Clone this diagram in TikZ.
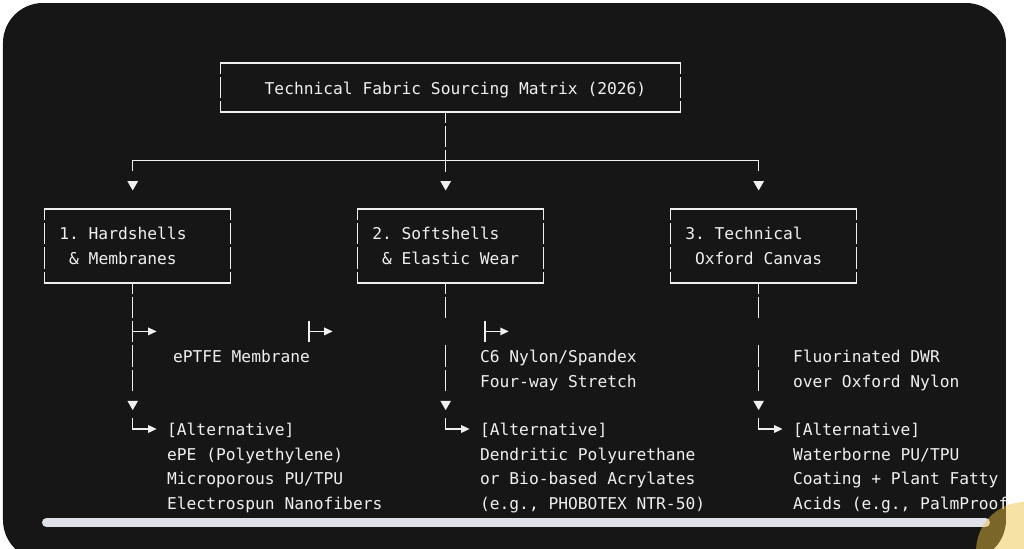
\documentclass[tikz,border=0pt]{standalone}
\usepackage{fontspec}
\setmonofont{DejaVu Sans Mono}
\usetikzlibrary{arrows.meta,shapes.geometric}

\definecolor{panel}{HTML}{161616}
\definecolor{ink}{HTML}{F0F0F0}
\definecolor{bar}{HTML}{DEE1E7}
\definecolor{sun}{HTML}{EEC142}

\tikzset{
  mono/.style={font=\ttfamily\fontsize{16.25}{24.4}\selectfont, text=ink, inner sep=0pt},
  boxframe/.style={mono, minimum width=185.82pt, minimum height=73.2pt,
    text width=156.48pt, inner xsep=14.67pt, align=flush left,
    execute at begin node={\spaceskip=0pt\xspaceskip=0pt}},
  note/.style={mono, anchor=base west, text width=240pt, align=flush left,
    execute at begin node={\spaceskip=0pt\xspaceskip=0pt}},
  rule/.style={draw=ink, line width=1.5pt},
  gapped/.style={dash pattern=on 21.4pt off 3pt, dash phase=10.7pt},
  gappedoff/.style={dash pattern=on 21.4pt off 3pt, dash phase=22.9pt},
  downmark/.style={regular polygon, regular polygon sides=3, shape border rotate=180,
    fill=ink, inner sep=0pt, minimum size=12.4pt},
  pointer/.style={-{Triangle[length=8.5pt,width=7.5pt]}},
}

\begin{document}
\begin{tikzpicture}[x=9.78pt, y=-24.4pt]
\useasboundingbox (-4.5706,-2.582) rectangle (100.133,19.918);

\begin{scope}
\clip[rounded corners=40pt] (-4.264,-2.459) rectangle (98.29,20.37);
\fill[panel] (-6,-4) rectangle (102,22);

% boxes
\node[mono, minimum width=459.66pt, minimum height=48.8pt, inner xsep=34.23pt,
  text height=13.6pt, text depth=0pt] (title) at (41.5,1)
  {\hphantom{T}Technical Fabric Sourcing Matrix (2026)};
\node[boxframe] (hard) at (9.5,7.5) {1. Hardshells\\\hphantom{1}\& Membranes};
\node[boxframe] (soft) at (41.5,7.5) {2. Softshells\\\hphantom{2}\& Elastic Wear};
\node[boxframe] (canvas) at (73.5,7.5) {3. Technical\\\hphantom{3}Oxford Canvas};

\foreach \b in {title,hard,soft,canvas}{
  \draw[rule] (\b.north west) -- (\b.north east) (\b.south west) -- (\b.south east);
  \draw[rule,gapped] (\b.north west) -- (\b.south west) (\b.north east) -- (\b.south east);
}

% fork under the title
\coordinate (fork) at (41,4);
\coordinate (drop1) at (9,4.44);
\coordinate (drop3) at (73,4.44);
\draw[rule,gapped] (title.south -| fork) -- (41,4.5);
\draw[rule] (drop1) |- (fork) -| (drop3);
\foreach \i/\c in {1/9,2/41,3/73}
  \node[downmark] (v\i) at (\c,4.97) {};

% texts
\node[note] (ptfe) at (13.1,12.28) {ePTFE Membrane};
\node[note] (nylon) at (44.5,12.28) {C6 Nylon/Spandex\\Four-way Stretch};
\node[note] (dwr) at (76.5,12.28) {Fluorinated DWR\\over Oxford Nylon};
\node[note] (alt1) at (12.5,15.28)
  {[Alternative]\\ePE (Polyethylene)\\Microporous PU/TPU\\Electrospun Nanofibers};
\node[note] (alt2) at (44.5,15.28)
  {[Alternative]\\Dendritic Polyurethane\\or Bio-based Acrylates\\(e.g., PHOBOTEX NTR-50)};
\node[note] (alt3) at (76.5,15.28)
  {[Alternative]\\Waterborne PU/TPU\\Coating + Plant Fatty\\Acids (e.g., PalmProof};

% column 1
\coordinate (c1) at (9,13.5);
\coordinate (j1) at (9,11);
\coordinate (p1) at (11.45,11);
\draw[rule,gapped] (hard.south -| c1) -- (c1);
\draw[rule,pointer] (j1) -- (p1);

% columns 2 and 3
\draw[rule,gapped] (soft.south -| v2) -- (41,10.5);
\draw[rule,gappedoff] (41,11.5) -- (41,13.5);
\draw[rule,gapped] (canvas.south -| v3) -- (73,10.5);
\draw[rule,gappedoff] (73,11.5) -- (73,13.5);

% loose arrows on the same row
\foreach \c in {27,45}{
  \draw[rule] (\c,10.56) -- (\c,11.44);
  \draw[rule,pointer] (\c,11) -- (\c+2.45,11);
}

% down marks and the alternatives
\foreach \i/\c in {1/9,2/41,3/73}{
  \node[downmark] (w\i) at (\c,13.97) {};
  \coordinate (a\i) at (\c+2.45,15);
  \draw[rule,pointer] (\c,14.56) |- (a\i);
}

% scroll bar
\fill[bar, rounded corners=4.5pt] (-0.276,18.648) rectangle (96.66,19.016);
\end{scope}

\fill[sun, opacity=0.47] (100.24,20) circle[radius=49pt];
\end{tikzpicture}
\end{document}
